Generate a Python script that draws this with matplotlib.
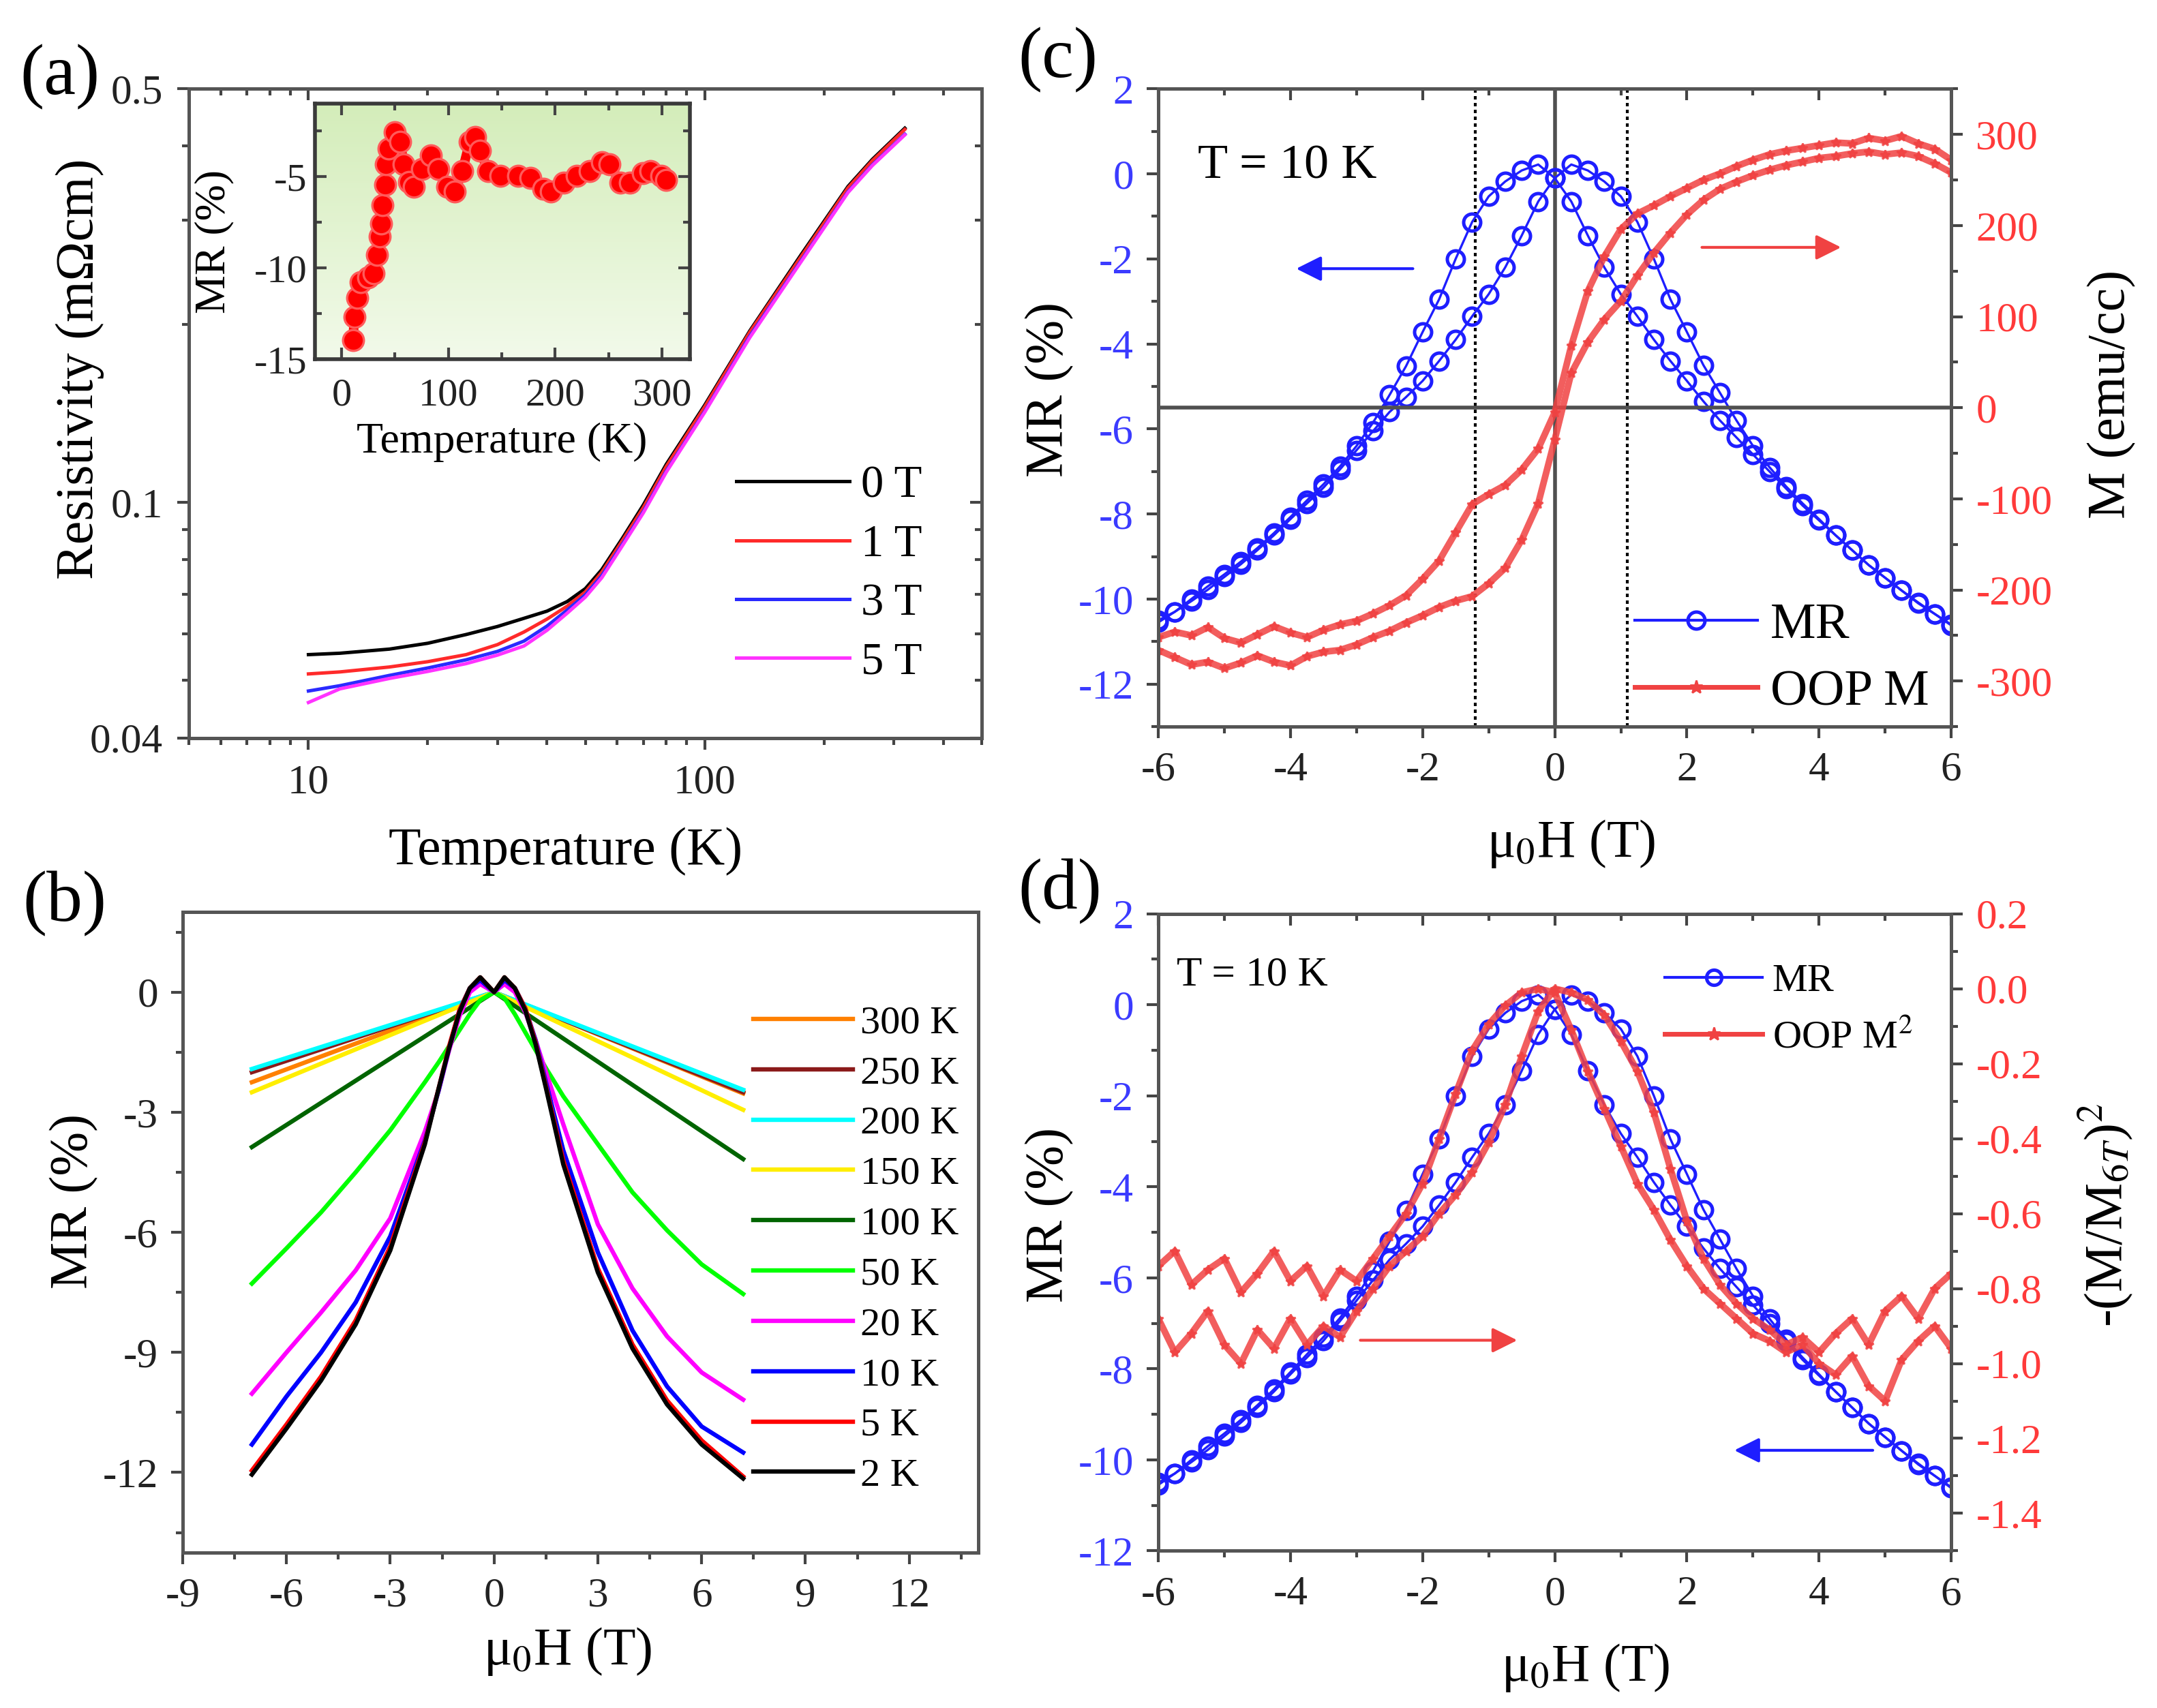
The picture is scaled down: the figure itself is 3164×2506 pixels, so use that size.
import numpy as np
import matplotlib
matplotlib.use('Agg')
import matplotlib.pyplot as plt
from matplotlib.colors import LinearSegmentedColormap
from matplotlib.lines import Line2D
from matplotlib.ticker import MultipleLocator, FixedLocator, NullFormatter, FormatStrFormatter

plt.rcParams['font.family'] = ['Liberation Serif', 'DejaVu Serif']
plt.rcParams['mathtext.fontset'] = 'stix'
plt.rcParams['axes.unicode_minus'] = False
plt.rcParams['axes.edgecolor'] = '#555555'
plt.rcParams['axes.linewidth'] = 1.8
plt.rcParams['xtick.color'] = '#444444'
plt.rcParams['ytick.color'] = '#444444'
plt.rcParams['xtick.labelcolor'] = '#222222'
plt.rcParams['ytick.labelcolor'] = '#222222'

# (a) resistivity vs temperature
temp_a = [10, 12, 16, 20, 25, 30, 35, 40, 45, 50, 55, 62, 70, 80, 100, 130, 175, 230, 265, 320]
rho_0T = [0.0553, 0.0556, 0.0565, 0.0578, 0.0598, 0.0617, 0.0637, 0.0655, 0.0680, 0.0715,
          0.0770, 0.0870, 0.0990, 0.1160, 0.1460, 0.1950, 0.2620, 0.3420, 0.3800, 0.4290]
rho_1T = [0.0513, 0.0517, 0.0527, 0.0538, 0.0553, 0.0575, 0.0604, 0.0635, 0.0668, 0.0706,
          0.0762, 0.0862, 0.0980, 0.1150, 0.1450, 0.1940, 0.2600, 0.3400, 0.3780, 0.4270]
rho_3T = [0.0480, 0.0490, 0.0510, 0.0525, 0.0542, 0.0560, 0.0583, 0.0618, 0.0658, 0.0698,
          0.0752, 0.0850, 0.0965, 0.1130, 0.1425, 0.1910, 0.2560, 0.3350, 0.3720, 0.4190]
rho_5T = [0.0459, 0.0484, 0.0504, 0.0518, 0.0534, 0.0552, 0.0572, 0.0608, 0.0650, 0.0692,
          0.0746, 0.0845, 0.0960, 0.1125, 0.1420, 0.1900, 0.2550, 0.3340, 0.3710, 0.4180]
rho_ticks = [0.04, 0.1, 0.5]
rho_minor = [0.05, 0.06, 0.07, 0.08, 0.09, 0.2, 0.3, 0.4]

# inset: MR vs temperature
temp_in = [10.7, 11.9, 14.3, 17.9, 25, 29.8, 33.3, 35.7, 36.9, 38.1, 40.5, 41.7, 44, 50, 54.8,
           58.3, 63, 67.9, 75, 83.3, 90.5, 98.8, 106, 113, 120, 125, 129.8, 137, 148.8, 165,
           177, 189, 196, 208, 220, 232, 244, 251, 260.7, 270, 282, 289, 299, 303.6]
mr_in = [-13.94, -12.7, -11.65, -10.78, -10.53, -10.28, -9.29, -8.29, -7.55, -6.55, -5.43,
         -4.32, -3.45, -2.58, -3.07, -4.32, -5.3, -5.56, -4.57, -3.82, -4.57, -5.56, -5.81,
         -4.69, -3.07, -2.83, -3.57, -4.69, -4.94, -4.94, -5.06, -5.68, -5.81, -5.31, -4.94,
         -4.69, -4.19, -4.32, -5.31, -5.31, -4.81, -4.69, -4.94, -5.19]

# (b) MR vs field at several temperatures
h_b = [-7.0, -6.0, -5.0, -4.0, -3.0, -2.0, -1.6, -1.3, -1.0, -0.7, -0.4, 0.0,
       0.3, 0.6, 0.9, 1.2, 1.5, 2.0, 3.0, 4.0, 5.0, 6.0, 7.2]
mr_2K = [-12.05, -10.9, -9.7, -8.3, -6.45, -3.8, -2.4, -1.4, -0.5, 0.1, 0.37, 0.0,
         0.37, 0.1, -0.45, -1.3, -2.4, -4.3, -7.0, -8.9, -10.3, -11.3, -12.15]
mr_5K = [-11.95, -10.8, -9.6, -8.2, -6.35, -3.75, -2.4, -1.35, -0.45, 0.1, 0.37, 0.0,
         0.37, 0.1, -0.4, -1.25, -2.35, -4.2, -6.9, -8.8, -10.2, -11.2, -12.1]
mr_10K = [-11.3, -10.1, -9.0, -7.75, -6.1, -3.7, -2.45, -1.4, -0.45, 0.1, 0.3, 0.0,
          0.3, 0.1, -0.4, -1.2, -2.25, -3.95, -6.5, -8.45, -9.85, -10.85, -11.5]
mr_20K = [-10.03, -9.0, -8.0, -6.95, -5.65, -3.48, -2.45, -1.45, -0.6, 0.0, 0.2, 0.0,
          0.2, 0.0, -0.5, -1.2, -2.0, -3.3, -5.8, -7.4, -8.6, -9.5, -10.18]
mr_50K = [-7.28, -6.4, -5.5, -4.5, -3.45, -2.25, -1.75, -1.35, -0.95, -0.55, -0.2, 0.0,
          -0.15, -0.55, -1.0, -1.45, -1.9, -2.6, -3.8, -5.0, -5.95, -6.8, -7.54]
h_lin = [-7.0, 0.0, 7.2]
mr_100K = [-3.87, 0.0, -4.17]
mr_150K = [-2.5, 0.0, -2.94]
mr_200K = [-1.92, 0.0, -2.44]
mr_250K = [-2.0, 0.0, -2.5]
mr_300K = [-2.25, 0.0, -2.53]

# (c), (d) field sweeps at 10 K
h_cd = np.linspace(-6, 6, 49)
mr_p = [-10.55, -10.3, -10.0, -9.7, -9.42, -9.12, -8.8, -8.45, -8.07, -7.68, -7.3, -6.88,
        -6.4, -5.85, -5.2, -4.52, -3.72, -2.95, -2.0, -1.13, -0.53, -0.18, 0.08, 0.22, -0.1,
        -0.65, -1.45, -2.2, -2.83, -3.35, -3.9, -4.4, -4.87, -5.35, -5.8, -6.2, -6.6, -7.0,
        -7.4, -7.8, -8.15, -8.5, -8.85, -9.2, -9.5, -9.8, -10.1, -10.35, -10.6]
mr_q = [-10.5, -10.3, -10.05, -9.78, -9.48, -9.18, -8.85, -8.5, -8.12, -7.75, -7.38, -6.95,
        -6.5, -6.05, -5.6, -5.25, -4.87, -4.4, -3.9, -3.35, -2.83, -2.2, -1.45, -0.65, -0.1,
        0.22, 0.08, -0.18, -0.53, -1.13, -2.0, -2.95, -3.72, -4.5, -5.15, -5.8, -6.4, -6.9,
        -7.35, -7.75, -8.12, -8.5, -8.85, -9.2, -9.5, -9.8, -10.08, -10.35, -10.62]
m_dn = [-252, -246, -250, -241, -253, -258, -249, -240, -247, -252, -244, -238, -234, -226,
        -217, -206, -188, -168, -137, -106, -95, -85, -68, -45, -5, 68, 128, 166, 196, 213,
        222, 232, 241, 250, 257, 265, 272, 278, 282, 285, 288, 291, 290, 296, 293, 298, 290,
        284, 272]
m_up = [-266, -274, -282, -279, -286, -280, -272, -279, -283, -273, -268, -266, -260, -252,
        -245, -236, -228, -219, -212, -207, -193, -176, -145, -105, -35, 38, 72, 97, 117, 145,
        170, 192, 212, 228, 240, 248, 255, 261, 266, 270, 274, 276, 279, 281, 278, 280, 276,
        268, 258]
m2_dn = [-0.74, -0.70, -0.79, -0.75, -0.72, -0.81, -0.76, -0.70, -0.78, -0.74, -0.82, -0.75,
         -0.78, -0.72, -0.66, -0.60, -0.52, -0.40, -0.28, -0.165, -0.095, -0.045, -0.01, 0.0,
         -0.01, -0.11, -0.22, -0.32, -0.42, -0.52, -0.59, -0.67, -0.74, -0.80, -0.84, -0.88,
         -0.92, -0.94, -0.97, -0.95, -1.0, -1.03, -0.98, -1.06, -1.1, -0.99, -0.94, -0.9, -0.96]
m2_up = [-0.88, -0.97, -0.92, -0.86, -0.95, -1.0, -0.91, -0.96, -0.88, -0.95, -0.90, -0.93,
         -0.86, -0.80, -0.74, -0.70, -0.66, -0.60, -0.55, -0.49, -0.41, -0.31, -0.18, -0.06,
         0.0, -0.01, -0.03, -0.07, -0.14, -0.22, -0.33, -0.48, -0.62, -0.72, -0.79, -0.84,
         -0.88, -0.91, -0.95, -0.93, -0.97, -0.92, -0.88, -0.95, -0.86, -0.82, -0.88, -0.80, -0.76]
m2_ticks = [-1.4, -1.2, -1.0, -0.8, -0.6, -0.4, -0.2, 0.0, 0.2]

blue = '#1e1eff'
red = '#f04242'
tick_blue = '#3b3bff'
tick_red = '#ff3a3a'

fig = plt.figure(figsize=(15.82, 12.53), dpi=200)

# ---------------- (a)
ax = fig.add_axes([0.0877, 0.568, 0.3674, 0.380])
ax.plot(temp_a, rho_0T, color='black', lw=1.8, label='0 T')
ax.plot(temp_a, rho_1T, color='#ff2a2a', lw=1.8, label='1 T')
ax.plot(temp_a, rho_3T, color='#2a2aff', lw=1.8, label='3 T')
ax.plot(temp_a, rho_5T, color='#ff33ff', lw=1.8, label='5 T')
ax.set_xscale('log')
ax.set_yscale('log')
ax.set_xlim(5, 500)
ax.set_ylim(0.04, 0.5)
ax.xaxis.set_major_formatter(FormatStrFormatter('%g'))
ax.xaxis.set_minor_formatter(NullFormatter())
ax.yaxis.set_major_locator(FixedLocator(rho_ticks))
ax.yaxis.set_minor_locator(FixedLocator(rho_minor))
ax.yaxis.set_major_formatter(FormatStrFormatter('%g'))
ax.yaxis.set_minor_formatter(NullFormatter())
ax.tick_params(which='both', direction='out', labelsize=22, width=1.5)
ax.tick_params(which='major', length=6, pad=8)
ax.tick_params(which='minor', length=3.5)
sec = ax.secondary_xaxis('top')
sec.tick_params(which='both', direction='in', labeltop=False, width=1.5)
sec.tick_params(which='major', length=6)
sec.tick_params(which='minor', length=3.5)
sec = ax.secondary_yaxis('right')
sec.set_yticks(rho_ticks)
sec.yaxis.set_minor_locator(FixedLocator(rho_minor))
sec.tick_params(which='both', direction='in', labelright=False, width=1.5)
sec.tick_params(which='major', length=6)
sec.tick_params(which='minor', length=3.5)
ax.set_ylabel('Resistivity (m\u03a9cm)', fontsize=28)
ax.yaxis.set_label_coords(-0.107, 0.568)
ax.set_xlabel('Temperature (K)', fontsize=28)
ax.xaxis.set_label_coords(0.475, -0.137)
ax.legend(loc='upper left', bbox_to_anchor=(0.69, 0.42), frameon=False, fontsize=24,
          handlelength=2.5, handletextpad=0.25, labelspacing=0.38, borderpad=0, borderaxespad=0)

# inset
axi = fig.add_axes([0.146, 0.7897, 0.1738, 0.1496])
bg = LinearSegmentedColormap.from_list('bg', ['#f2faea', '#d4edba'])
axi.imshow(np.linspace(0, 1, 100).reshape(-1, 1), cmap=bg, origin='lower',
           extent=(-25, 326, -15, -1), aspect='auto', zorder=0)
axi.plot(temp_in, mr_in, color='red', lw=5, marker='o', ms=11, mfc='red', mec='#ff5a5a',
         mew=1.2, zorder=2)
axi.set_xlim(-25, 326)
axi.set_ylim(-15, -1)
axi.set_aspect('auto')
axi.xaxis.set_major_locator(MultipleLocator(100))
axi.xaxis.set_minor_locator(MultipleLocator(50))
axi.yaxis.set_major_locator(FixedLocator([-15, -10, -5]))
axi.yaxis.set_minor_locator(FixedLocator([-12.5, -7.5, -2.5]))
axi.tick_params(which='both', direction='in', top=True, right=True, labelsize=21, width=1.5)
axi.tick_params(which='major', length=6)
axi.tick_params(which='minor', length=3.5)
axi.tick_params(axis='x', pad=10)
axi.tick_params(axis='y', pad=4)
for s in axi.spines.values():
    s.set_color('#3a3a3a')
    s.set_linewidth(2)
axi.set_xlabel('Temperature (K)', fontsize=23)
axi.xaxis.set_label_coords(0.498, -0.248)
axi.set_ylabel('MR (%)', fontsize=23)
axi.yaxis.set_label_coords(-0.215, 0.461)

# ---------------- (b)
ax = fig.add_axes([0.0847, 0.091, 0.3689, 0.375])
ax.plot(h_lin, mr_300K, color='#ff8000', lw=2.3, label='300 K')
ax.plot(h_lin, mr_250K, color='#8b1a1a', lw=2.3, label='250 K')
ax.plot(h_lin, mr_200K, color='#00ffff', lw=2.3, label='200 K')
ax.plot(h_lin, mr_150K, color='#ffee00', lw=2.3, label='150 K')
ax.plot(h_lin, mr_100K, color='#006400', lw=2.3, label='100 K')
ax.plot(h_b, mr_50K, color='#00ff00', lw=2.3, label='50 K')
ax.plot(h_b, mr_20K, color='#ff00ff', lw=2.3, label='20 K')
ax.plot(h_b, mr_10K, color='#0000ff', lw=2.3, label='10 K')
ax.plot(h_b, mr_5K, color='#ff0000', lw=2.3, label='5 K')
ax.plot(h_b, mr_2K, color='black', lw=2.3, label='2 K')
ax.set_xlim(-9, 14)
ax.set_ylim(-14, 2)
ax.xaxis.set_major_locator(MultipleLocator(3))
ax.xaxis.set_minor_locator(MultipleLocator(1.5))
ax.yaxis.set_major_locator(MultipleLocator(3))
ax.yaxis.set_minor_locator(MultipleLocator(1.5))
ax.tick_params(which='both', direction='out', labelsize=22, width=1.5)
ax.tick_params(which='major', length=6, pad=7)
ax.tick_params(which='minor', length=3.5)
ax.set_ylabel('MR (%)', fontsize=28)
ax.yaxis.set_label_coords(-0.106, 0.548)
ax.set_xlabel('\u03bc$_0$H (T)', fontsize=28)
ax.xaxis.set_label_coords(0.484, -0.114)
ax.legend(loc='upper left', bbox_to_anchor=(0.717, 0.855), frameon=False, fontsize=21,
          handlelength=2.5, handletextpad=0.2, labelspacing=0.36, borderpad=0, borderaxespad=0)

# ---------------- (c)
ax = fig.add_axes([0.537, 0.5746, 0.3676, 0.3734])
ax.axvline(0, color='#505050', lw=2, zorder=1)
ax.axvline(-1.2, color='black', lw=1.5, ls=(0, (1.2, 1.2)), zorder=1)
ax.axvline(1.1, color='black', lw=1.5, ls=(0, (1.2, 1.2)), zorder=1)
ax.plot(h_cd, mr_p, color=blue, lw=1.2, marker='o', ms=9, mfc='none', mec=blue, mew=1.8)
ax.plot(h_cd, mr_q, color=blue, lw=1.2, marker='o', ms=9, mfc='none', mec=blue, mew=1.8)
ax.set_xlim(-6, 6)
ax.set_ylim(-13, 2)
ax.xaxis.set_major_locator(MultipleLocator(2))
ax.xaxis.set_minor_locator(MultipleLocator(1))
ax.yaxis.set_major_locator(MultipleLocator(2))
ax.yaxis.set_minor_locator(MultipleLocator(1))
ax.tick_params(which='both', direction='out', labelsize=22, width=1.5)
ax.tick_params(which='major', length=6, pad=7)
ax.tick_params(which='minor', length=3.5)
ax.tick_params(axis='y', labelcolor=tick_blue)
sec = ax.secondary_xaxis('top')
sec.xaxis.set_major_locator(MultipleLocator(2))
sec.xaxis.set_minor_locator(MultipleLocator(1))
sec.tick_params(which='both', direction='in', labeltop=False, width=1.5)
sec.tick_params(which='major', length=6)
sec.tick_params(which='minor', length=3.5)
ax.set_ylabel('MR (%)', fontsize=28)
ax.yaxis.set_label_coords(-0.106, 0.528)
ax.set_xlabel('\u03bc$_0$H (T)', fontsize=28)
ax.xaxis.set_label_coords(0.521, -0.143)
ax.text(-5.4, 0.17, 'T = 10 K', fontsize=26, va='center')
ax.annotate('', xy=(-3.97, -2.23), xytext=(-2.09, -2.23),
            arrowprops=dict(arrowstyle='-|>', color=blue, lw=1.5, mutation_scale=28))

ax2 = ax.twinx()
ax2.axhline(0, color='#505050', lw=2, zorder=1)
ax2.plot(h_cd, m_dn, color=red, lw=3.5, marker='*', ms=5, alpha=0.85)
ax2.plot(h_cd, m_up, color=red, lw=3.5, marker='*', ms=5, alpha=0.85)
ax2.set_ylim(-350, 350)
ax2.yaxis.set_major_locator(MultipleLocator(100))
ax2.yaxis.set_minor_locator(MultipleLocator(50))
ax2.tick_params(which='both', direction='out', labelsize=22, width=1.5, labelcolor=tick_red)
ax2.tick_params(which='major', length=6, pad=7)
ax2.tick_params(which='minor', length=3.5)
ax2.set_ylabel('M (emu/cc)', fontsize=28)
ax2.yaxis.set_label_coords(1.172, 0.521)
ax2.annotate('', xy=(4.39, 176), xytext=(2.17, 176),
             arrowprops=dict(arrowstyle='-|>', color=red, lw=1.5, mutation_scale=28))
hnd = [Line2D([], [], color=blue, lw=1.5, marker='o', ms=9, mfc='none', mec=blue, mew=1.8),
       Line2D([], [], color=red, lw=2.5, marker='*', ms=7)]
ax2.legend(hnd, ['MR', 'OOP M'], loc='upper left', bbox_to_anchor=(0.601, 0.195),
           frameon=False, fontsize=27, handlelength=2.4, handletextpad=0.25,
           labelspacing=0.4, borderpad=0, borderaxespad=0, numpoints=1)

# ---------------- (d)
ax = fig.add_axes([0.537, 0.092, 0.3676, 0.373])
ax.plot(h_cd, mr_p, color=blue, lw=1.2, marker='o', ms=9, mfc='none', mec=blue, mew=1.8)
ax.plot(h_cd, mr_q, color=blue, lw=1.2, marker='o', ms=9, mfc='none', mec=blue, mew=1.8)
ax.set_xlim(-6, 6)
ax.set_ylim(-12, 2)
ax.xaxis.set_major_locator(MultipleLocator(2))
ax.xaxis.set_minor_locator(MultipleLocator(1))
ax.yaxis.set_major_locator(MultipleLocator(2))
ax.yaxis.set_minor_locator(MultipleLocator(1))
ax.tick_params(which='both', direction='out', labelsize=22, width=1.5)
ax.tick_params(which='major', length=6, pad=7)
ax.tick_params(which='minor', length=3.5)
ax.tick_params(axis='y', labelcolor=tick_blue)
sec = ax.secondary_xaxis('top')
sec.xaxis.set_major_locator(MultipleLocator(2))
sec.xaxis.set_minor_locator(MultipleLocator(1))
sec.tick_params(which='both', direction='in', labeltop=False, width=1.5)
sec.tick_params(which='major', length=6)
sec.tick_params(which='minor', length=3.5)
ax.set_ylabel('MR (%)', fontsize=28)
ax.yaxis.set_label_coords(-0.106, 0.527)
ax.set_xlabel('\u03bc$_0$H (T)', fontsize=28)
ax.xaxis.set_label_coords(0.539, -0.143)
ax.text(-5.72, 0.65, 'T = 10 K', fontsize=22, va='center')
ax.annotate('', xy=(2.66, -9.79), xytext=(4.87, -9.79),
            arrowprops=dict(arrowstyle='-|>', color=blue, lw=1.5, mutation_scale=28))

ax2 = ax.twinx()
ax2.plot(h_cd, m2_dn, color=red, lw=3.5, marker='*', ms=5, alpha=0.85)
ax2.plot(h_cd, m2_up, color=red, lw=3.5, marker='*', ms=5, alpha=0.85)
ax2.set_ylim(-1.5, 0.2)
ax2.yaxis.set_major_locator(FixedLocator(m2_ticks))
ax2.yaxis.set_major_formatter(FormatStrFormatter('%.1f'))
ax2.yaxis.set_minor_locator(MultipleLocator(0.1))
ax2.tick_params(which='both', direction='out', labelsize=22, width=1.5, labelcolor=tick_red)
ax2.tick_params(which='major', length=6, pad=7)
ax2.tick_params(which='minor', length=3.5)
ax2.set_ylabel('-(M/M$_{6T}$)$^2$', fontsize=28)
ax2.yaxis.set_label_coords(1.158, 0.527)
ax2.annotate('', xy=(-0.51, -0.938), xytext=(-3.0, -0.938),
             arrowprops=dict(arrowstyle='-|>', color=red, lw=1.5, mutation_scale=28))
hnd = [Line2D([], [], color=blue, lw=1.5, marker='o', ms=8, mfc='none', mec=blue, mew=1.8),
       Line2D([], [], color=red, lw=2.5, marker='*', ms=7)]
ax2.legend(hnd, ['MR', 'OOP M$^2$'], loc='upper left', bbox_to_anchor=(0.639, 0.922),
           frameon=False, fontsize=21, handlelength=2.45, handletextpad=0.25,
           labelspacing=0.51, borderpad=0, borderaxespad=0, numpoints=1)

fig.text(0.0092, 0.955, '(a)', fontsize=38, va='center')
fig.text(0.0104, 0.471, '(b)', fontsize=38, va='center')
fig.text(0.472, 0.965, '(c)', fontsize=38, va='center')
fig.text(0.472, 0.478, '(d)', fontsize=38, va='center')

fig.savefig('out.png', dpi=200)
